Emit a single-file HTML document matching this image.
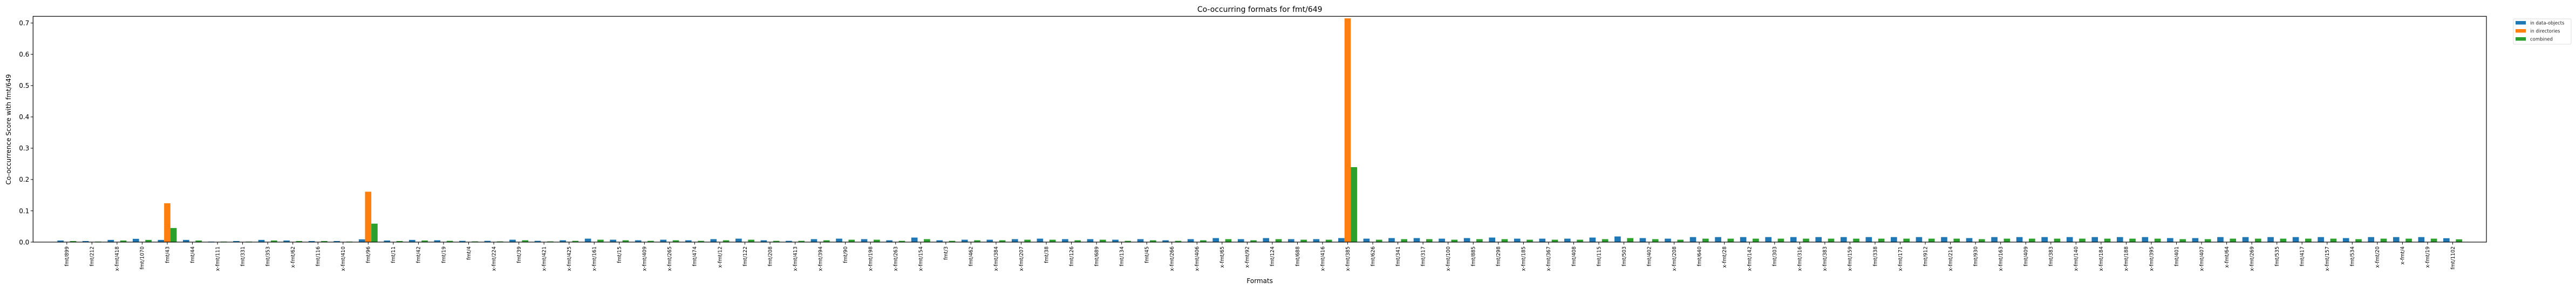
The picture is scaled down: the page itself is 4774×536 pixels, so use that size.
<!DOCTYPE html>
<html><head><meta charset="utf-8"><style>
html,body{margin:0;padding:0;background:#fff;}
svg{display:block;font-family:"DejaVu Sans","Liberation Sans",sans-serif;}
</style></head><body>
<svg id="chart" width="4774" height="536" viewBox="0 0 4774 536" xmlns="http://www.w3.org/2000/svg">
<rect x="0" y="0" width="4774" height="536" fill="#fff"/>
<text x="2334.7" y="22" font-size="14" text-anchor="middle" fill="#000">Co-occurring formats for fmt/649</text>
<text x="2334.7" y="525" font-size="12" text-anchor="middle" fill="#000">Formats</text>
<text transform="translate(20,240) rotate(-90)" font-size="12" text-anchor="middle" fill="#000">Co-occurrence Score with fmt/649</text>
<g id="marks"></g>
<g id="axes"></g>
<g>
<rect x="4658" y="35" width="107" height="47" fill="#fff" stroke="#ddd" stroke-width="1" rx="2"/>
<rect x="4662" y="39" width="19" height="6.5" fill="#1f77b4"/>
<text x="4689" y="45.5" font-size="8.5" fill="#222">in data-objects</text>
<rect x="4662" y="54" width="19" height="6.5" fill="#ff7f0e"/>
<text x="4689" y="60.5" font-size="8.5" fill="#222">in directories</text>
<rect x="4662" y="69" width="19" height="6.5" fill="#2ca02c"/>
<text x="4689" y="75.5" font-size="8.5" fill="#222">combined</text>
</g>
</svg>
<script>
const categories = ["fmt/899","fmt/212","x-fmt/418","fmt/1070","fmt/43","fmt/44","x-fmt/111","fmt/331","fmt/353","x-fmt/62","fmt/116","x-fmt/410","fmt/96","fmt/11","fmt/42","fmt/19","fmt/4","x-fmt/224","fmt/39","x-fmt/421","x-fmt/425","x-fmt/161","fmt/15","x-fmt/409","x-fmt/265","fmt/474","x-fmt/12","fmt/122","fmt/208","x-fmt/413","x-fmt/394","fmt/90","x-fmt/198","x-fmt/263","x-fmt/154","fmt/3","fmt/462","x-fmt/384","x-fmt/207","fmt/38","fmt/126","fmt/689","fmt/134","fmt/45","x-fmt/266","x-fmt/406","x-fmt/65","x-fmt/92","fmt/124","fmt/688","x-fmt/416","x-fmt/385","fmt/626","fmt/341","fmt/317","x-fmt/100","fmt/885","fmt/298","x-fmt/185","x-fmt/367","fmt/408","fmt/115","fmt/503","fmt/402","x-fmt/208","fmt/640","x-fmt/28","x-fmt/142","fmt/303","x-fmt/316","x-fmt/383","x-fmt/159","fmt/338","x-fmt/171","fmt/912","x-fmt/214","fmt/930","x-fmt/163","fmt/409","fmt/383","x-fmt/140","x-fmt/184","x-fmt/188","x-fmt/395","fmt/401","x-fmt/407","x-fmt/64","x-fmt/269","fmt/535","fmt/417","x-fmt/157","fmt/534","x-fmt/20","x-fmt/4","x-fmt/19","fmt/1102"];
const dataObjects = [0.005,0.0034,0.007,0.0105,0.007,0.007,0.0017,0.0034,0.007,0.005,0.0034,0.0034,0.0088,0.005,0.007,0.0058,0.004,0.004,0.0076,0.004,0.0058,0.011,0.0076,0.0058,0.0076,0.0058,0.0094,0.011,0.0058,0.004,0.0094,0.011,0.0094,0.0058,0.0145,0.0058,0.0076,0.0076,0.0094,0.011,0.0094,0.0094,0.0076,0.0094,0.0058,0.0094,0.0128,0.0094,0.0128,0.0094,0.0094,0.0128,0.011,0.0128,0.0128,0.011,0.0128,0.0145,0.011,0.011,0.011,0.0145,0.018,0.0128,0.011,0.016,0.016,0.016,0.016,0.016,0.016,0.016,0.016,0.016,0.016,0.016,0.0128,0.016,0.016,0.016,0.016,0.016,0.016,0.016,0.0128,0.0128,0.016,0.016,0.016,0.016,0.016,0.0128,0.016,0.016,0.016,0.0124];
const directories = [0,0,0,0,0.124,0,0,0,0,0,0,0,0.161,0,0,0,0,0,0,0,0,0,0,0,0,0,0,0,0,0,0,0,0,0,0,0,0,0,0,0,0,0,0,0,0,0,0,0,0,0,0,0.715,0,0,0,0,0,0,0,0,0,0,0,0,0,0,0,0,0,0,0,0,0,0,0,0,0,0,0,0,0,0,0,0,0,0,0,0,0,0,0,0,0,0,0,0];
const combined = [0.0034,0.0017,0.005,0.007,0.045,0.005,0.0017,0.0017,0.005,0.0034,0.0034,0.0017,0.059,0.0034,0.005,0.004,0.0023,0.0023,0.0058,0.0023,0.004,0.0076,0.0058,0.004,0.0058,0.004,0.0058,0.0076,0.004,0.004,0.0058,0.0076,0.0076,0.004,0.0094,0.004,0.0058,0.0058,0.0076,0.0076,0.0058,0.0076,0.004,0.0058,0.004,0.0058,0.0094,0.0058,0.0094,0.0076,0.0076,0.2395,0.0076,0.0094,0.0094,0.0076,0.0094,0.0094,0.0076,0.0076,0.0076,0.0094,0.0128,0.0094,0.0076,0.011,0.011,0.011,0.011,0.011,0.011,0.011,0.011,0.011,0.011,0.011,0.0094,0.011,0.011,0.011,0.011,0.011,0.011,0.011,0.0094,0.0094,0.011,0.011,0.011,0.011,0.011,0.0094,0.011,0.011,0.011,0.0089];
const yTicks = [0.0,0.1,0.2,0.3,0.4,0.5,0.6,0.7];
const yTickLabels = ["0.0","0.1","0.2","0.3","0.4","0.5","0.6","0.7"];

const NS = "http://www.w3.org/2000/svg";
const plotL = 61.3, plotR = 4608, plotT = 30.3, plotB = 449;
const n = categories.length;
const maxVal = Math.max(...dataObjects, ...directories, ...combined);
const yMax = Math.max(0.7214, maxVal * 1.009);
const band = (plotR - plotL) / (n - 1 + 2 * 1.343);
function xScale(i) { return plotL + band * 1.343 + i * band; }
function yScale(v) { return plotB - (v / yMax) * (plotB - plotT); }
const barW = band * 0.25;

const marks = document.getElementById('marks');
const axes = document.getElementById('axes');
function mk(tag, attrs, parent) {
  const el = document.createElementNS(NS, tag);
  for (const k in attrs) el.setAttribute(k, attrs[k]);
  parent.appendChild(el);
  return el;
}
const series = [
  {vals: dataObjects, color: "#1f77b4", off: -1, name: "bar-data-objects"},
  {vals: directories, color: "#ff7f0e", off: 0, name: "bar-directories"},
  {vals: combined, color: "#2ca02c", off: 1, name: "bar-combined"}
];
series.forEach(s => {
  s.vals.forEach((v, i) => {
    const cx = xScale(i) + s.off * barW;
    const y = yScale(v);
    const r = mk('rect', {x: cx - barW / 2, y: y, width: barW, height: Math.max(0, plotB - y), fill: s.color}, marks);
    
    
  });
});
// frame
const frame = mk('rect', {x: plotL, y: plotT, width: plotR - plotL, height: plotB - plotT, fill: "none", stroke: "#000", "stroke-width": 1.2}, axes);


// y ticks
yTicks.forEach((t, k) => {
  const y = yScale(t);
  mk('line', {x1: plotL - 4.5, x2: plotL, y1: y, y2: y, stroke: "#000", "stroke-width": 1}, axes);
  const tx = mk('text', {x: plotL - 7, y: y + 4.3, "font-size": 12, "text-anchor": "end", fill: "#000"}, axes);
  tx.textContent = yTickLabels[k];
  
  
});
// x ticks
categories.forEach((c, i) => {
  const x = xScale(i);
  mk('line', {x1: x, x2: x, y1: plotB, y2: plotB + 4.5, stroke: "#000", "stroke-width": 1}, axes);
  const tx = mk('text', {transform: "translate(" + (x + 3.3) + "," + (plotB + 8) + ") rotate(-90)", "font-size": 9.3, "text-anchor": "end", fill: "#000"}, axes);
  tx.textContent = c;
  
  
});
</script>
</body></html>
